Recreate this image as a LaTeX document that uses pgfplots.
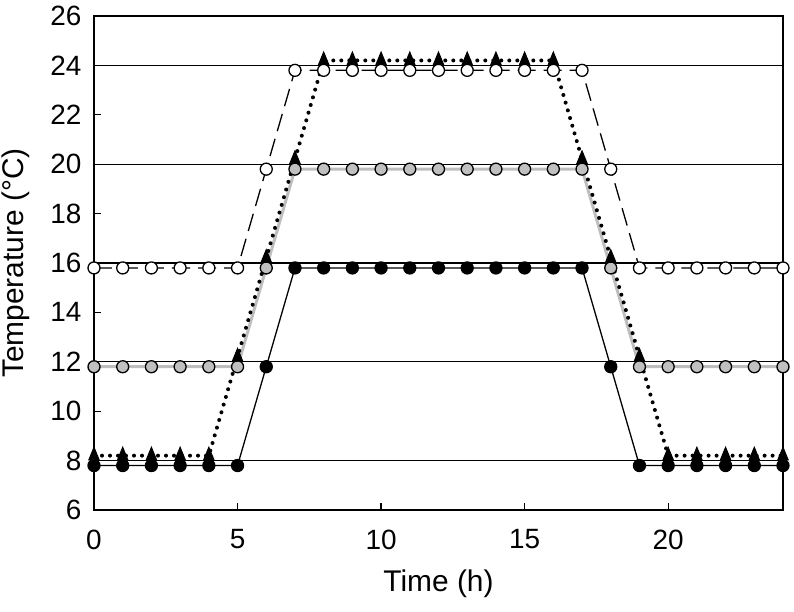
\documentclass[border=0pt]{standalone}
\usepackage{pgfplots}
\pgfplotsset{compat=1.18}
\usepackage{fontspec}
\setmainfont{Liberation Sans}
\begin{document}
\begin{tikzpicture}
\useasboundingbox (-94bp,-102bp) rectangle (700bp,510bp);
\begin{axis}[
  at={(0,0)}, anchor=south west,
  scale only axis,
  width=689bp, height=494bp,
  xmin=0, xmax=24, ymin=6, ymax=26,
  xtick={0,5,10,15,20}, ytick={6,8,...,26},
  xtick pos=left, ytick pos=left,
  tick align=inside,
  major tick length=7bp,
  axis line style={line width=1.5bp},
  tick style={line width=1.3bp, black},
  /pgf/number format/assume math mode=true,
  ticklabel style={font=\fontsize{28}{32}\selectfont},
  xticklabel style={yshift=-16bp},
  yticklabel style={xshift=-9bp},
  label style={font=\fontsize{30}{34}\selectfont},
  xlabel={Time (h)}, ylabel={Temperature (°C)},
  xlabel style={yshift=-14bp},
  ylabel style={yshift=14bp},
  extra y ticks={8,12,16,20,24},
  extra y tick labels={},
  extra y tick style={grid=major, major grid style={black, line width=1.3bp}, major tick length=0pt},
  clip=false,
]
% gray series
\addplot[color={rgb,255:red,190;green,190;blue,190}, line width=3bp, mark=*, mark size=6bp,
  mark options={fill={rgb,255:red,192;green,192;blue,192}, draw=black, line width=1.3bp, solid}]
coordinates {(0,11.8)(1,11.8)(2,11.8)(3,11.8)(4,11.8)(5,11.8)(6,15.8)(7,19.8)(8,19.8)(9,19.8)(10,19.8)(11,19.8)(12,19.8)(13,19.8)(14,19.8)(15,19.8)(16,19.8)(17,19.8)(18,15.8)(19,11.8)(20,11.8)(21,11.8)(22,11.8)(23,11.8)(24,11.8)};
% black series
\addplot[black, line width=1.3bp, mark=*, mark size=6bp,
  mark options={fill=black, draw=black, solid}]
coordinates {(0,7.8)(1,7.8)(2,7.8)(3,7.8)(4,7.8)(5,7.8)(6,11.8)(7,15.8)(8,15.8)(9,15.8)(10,15.8)(11,15.8)(12,15.8)(13,15.8)(14,15.8)(15,15.8)(16,15.8)(17,15.8)(18,11.8)(19,7.8)(20,7.8)(21,7.8)(22,7.8)(23,7.8)(24,7.8)};
% triangle series
\addplot[black, line width=4bp, dash pattern=on 0bp off 8bp, line cap=round, mark=triangle*, mark size=7bp,
  mark options={fill=black, draw=black, solid, line width=1bp, line cap=butt, xscale=0.85, yscale=1.2}]
coordinates {(0,8.2)(1,8.2)(2,8.2)(3,8.2)(4,8.2)(5,12.2)(6,16.2)(7,20.2)(8,24.2)(9,24.2)(10,24.2)(11,24.2)(12,24.2)(13,24.2)(14,24.2)(15,24.2)(16,24.2)(17,20.2)(18,16.2)(19,12.2)(20,8.2)(21,8.2)(22,8.2)(23,8.2)(24,8.2)};
% white series
\addplot[black, line width=1.3bp, dash pattern=on 18bp off 8bp, mark=*, mark size=6bp,
  mark options={fill=white, draw=black, solid}]
coordinates {(0,15.8)(1,15.8)(2,15.8)(3,15.8)(4,15.8)(5,15.8)(6,19.8)(7,23.8)(8,23.8)(9,23.8)(10,23.8)(11,23.8)(12,23.8)(13,23.8)(14,23.8)(15,23.8)(16,23.8)(17,23.8)(18,19.8)(19,15.8)(20,15.8)(21,15.8)(22,15.8)(23,15.8)(24,15.8)};
\end{axis}
\end{tikzpicture}
\end{document}
